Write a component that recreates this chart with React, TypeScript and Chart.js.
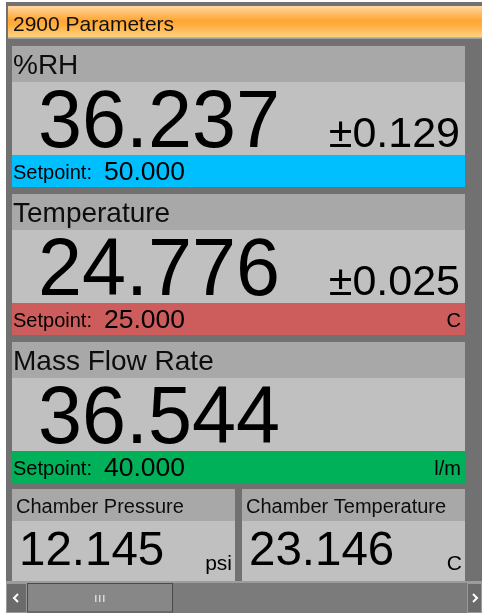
import React, { useEffect, useRef } from "react";
import { Chart, registerables } from "chart.js";

Chart.register(...registerables);

// ---- Data ----
const headerTitle = "2900 Parameters";
const parameters = ["%RH", "Temperature", "Mass Flow Rate"];
const readings = [36.237, 24.776, 36.544];
const uncertainties: (number | null)[] = [0.129, 0.025, null];
const setpoints = [50.0, 25.0, 40.0];
const units = ["", "C", "l/m"];
const barColors = ["#00bfff", "#cd5c5c", "#00b159"];
const chamberLabels = ["Chamber Pressure", "Chamber Temperature"];
const chamberValues = [12.145, 23.146];
const chamberUnits = ["psi", "C"];

const FONT = '"Liberation Sans", Arial, sans-serif';

const panelPlugin = {
  id: "panelPlugin",
  afterDraw(chart: any) {
    const ctx: CanvasRenderingContext2D = chart.ctx;
    const W = chart.width;
    const H = chart.height;
    const labels: string[] = chart.data.labels;
    const vals: number[] = chart.data.datasets[0].data;
    const nMain = parameters.length;

    ctx.save();
    const rect = (x: number, y: number, w: number, h: number, c: any) => {
      ctx.fillStyle = c;
      ctx.fillRect(x, y, w, h);
    };
    const text = (
      s: string,
      x: number,
      y: number,
      size: number,
      align: CanvasTextAlign = "left",
      color = "#000",
      sx = 1
    ) => {
      ctx.save();
      ctx.font = `${size}px ${FONT}`;
      ctx.textAlign = align;
      ctx.textBaseline = "alphabetic";
      ctx.fillStyle = color;
      ctx.translate(x, y);
      ctx.scale(sx, 1);
      ctx.fillText(s, 0, 0);
      ctx.restore();
    };

    // background + frame
    rect(0, 0, W, H, "#ffffff");
    rect(6, 2, W - 6, H - 2, "#717171");

    // header
    const g = ctx.createLinearGradient(0, 6, 0, 38);
    g.addColorStop(0, "#ffd7a0");
    g.addColorStop(0.45, "#ffa634");
    g.addColorStop(0.6, "#ffad40");
    g.addColorStop(1, "#ffd683");
    rect(8, 6, W - 8, 32, g);
    rect(8, 37, W - 8, 1, "#c9b08a");
    rect(8, 38, W - 8, 1, "#a0a0a0");
    text(headerTitle, 13, 31, 21, "left", "#111");

    // main panels
    const left = 12;
    const right = 465;
    const pw = right - left;
    for (let i = 0; i < nMain; i++) {
      const top = 46 + i * 148;
      rect(left, top, pw, 36, "#a8a8a8");
      rect(left, top + 36, pw, 73, "#c0c0c0");
      rect(left, top + 109, pw, 32, barColors[i]);
      text(labels[i], 13, top + 28, 28, "left", "#0d0d0d");
      text(vals[i].toFixed(3), 38, top + 101, 82, "left", "#000", 0.965);
      const u = uncertainties[i];
      if (u !== null) text("\u00b1" + u.toFixed(3), 460, top + 101, 43, "right");
      text("Setpoint:", 13, top + 133, 20);
      text(setpoints[i].toFixed(3), 104, top + 134, 26.5);
      if (units[i]) text(units[i], 461, top + 133, 20, "right");
    }

    // chamber panels
    const cTop = 489;
    const cLefts = [12, 242];
    const cRights = [235, 465];
    for (let j = 0; j < chamberLabels.length; j++) {
      const l = cLefts[j];
      const r = cRights[j];
      rect(l, cTop, r - l, 32, "#a8a8a8");
      rect(l, cTop + 32, r - l, 60, "#c0c0c0");
      text(labels[nMain + j], l + 4, cTop + 24, 20, "left", "#0d0d0d");
      text(vals[nMain + j].toFixed(3), l + 7, 565, 47.5);
      text(chamberUnits[j], r - 3, 570, 21, "right");
    }

    // scrollbar
    rect(6, 581, W - 6, 2, "#9c9c9c");
    rect(6, 583, W - 6, H - 583, "#7b7b7b");
    // left button
    rect(6, 583, 21, H - 583, "#6b6b6b");
    ctx.strokeStyle = "#9a9a9a";
    ctx.lineWidth = 1;
    ctx.strokeRect(6.5, 583.5, 20, H - 584);
    // thumb
    rect(27, 583, 146, H - 583, "#878787");
    ctx.strokeStyle = "#4a4a4a";
    ctx.strokeRect(27.5, 583.5, 145, H - 584.5);
    // grip
    ctx.fillStyle = "#d8d8d8";
    for (let k = 0; k < 3; k++) ctx.fillRect(95 + k * 4, 595, 1.5, 7);
    // right button
    rect(467, 583, W - 467, H - 583, "#6b6b6b");
    ctx.strokeStyle = "#9a9a9a";
    ctx.strokeRect(467.5, 583.5, W - 468, H - 584);
    // chevrons
    ctx.strokeStyle = "#ffffff";
    ctx.lineWidth = 2;
    ctx.beginPath();
    ctx.moveTo(18, 594);
    ctx.lineTo(14, 598);
    ctx.lineTo(18, 602);
    ctx.stroke();
    ctx.beginPath();
    ctx.moveTo(473, 594);
    ctx.lineTo(477, 598);
    ctx.lineTo(473, 602);
    ctx.stroke();

    ctx.restore();
  },
};

export default function App() {
  const ref = useRef<HTMLCanvasElement | null>(null);

  useEffect(() => {
    document.body.style.margin = "0";
    if (!ref.current) return;
    const chart = new Chart(ref.current, {
      type: "bar",
      data: {
        labels: [...parameters, ...chamberLabels],
        datasets: [
          {
            data: [...readings, ...chamberValues],
            backgroundColor: "rgba(0,0,0,0)",
            borderWidth: 0,
          },
        ],
      },
      options: {
        responsive: false,
        animation: false,
        devicePixelRatio: 1,
        events: [],
        layout: { padding: 0 },
        scales: { x: { display: false }, y: { display: false } },
        plugins: { legend: { display: false }, tooltip: { enabled: false } },
      },
      plugins: [panelPlugin],
    });
    return () => chart.destroy();
  }, []);

  return (
    <canvas
      ref={ref}
      width={482}
      height={613}
      style={{ display: "block", width: 482, height: 613 }}
    />
  );
}
